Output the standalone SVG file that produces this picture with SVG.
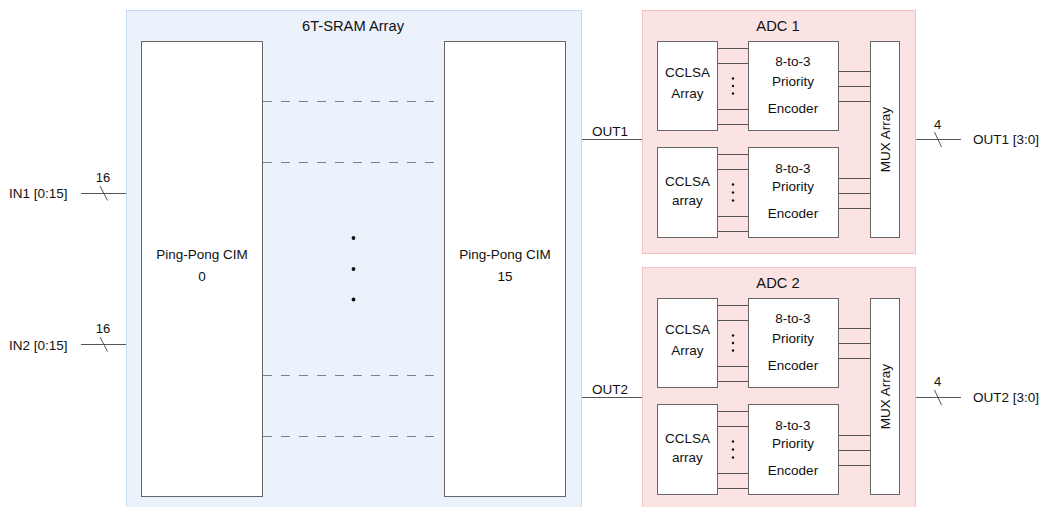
<svg xmlns="http://www.w3.org/2000/svg" width="1043" height="507" viewBox="0 0 1043 507">
<style>
text{font-family:"Liberation Sans",Arial,Helvetica,sans-serif;fill:#111;font-size:13.5px;text-anchor:middle}
.title{font-size:14.7px}
.lbl{font-size:13.5px}
.small{font-size:13px}
.blk{fill:#fff;stroke:#666;stroke-width:1}
.sram{fill:#ebf2fc;stroke:#c8daf3;stroke-width:1}
.adc{fill:#fae3e2;stroke:#f1c2c0;stroke-width:1}
.w{stroke:#555;stroke-width:1;fill:none}
.dash{stroke:#808080;stroke-width:1;stroke-dasharray:9 9;fill:none}
.dot{fill:#111}
</style>
<g id="sram-array">
<rect class="sram" x="126.5" y="10.5" width="455" height="500"/>
<text class="title" x="353" y="31">6T-SRAM Array</text>
</g>
<g id="cim0">
<rect class="blk" x="141.5" y="41.5" width="121" height="455"/>
<text x="202" y="259">Ping-Pong CIM</text>
<text x="202" y="281">0</text>
</g>
<g id="cim15">
<rect class="blk" x="444.5" y="41.5" width="121" height="455"/>
<text x="505" y="259">Ping-Pong CIM</text>
<text x="505" y="281">15</text>
</g>
<g id="sram-dots">
<circle class="dot" cx="353.5" cy="238" r="1.9"/>
<circle class="dot" cx="353.5" cy="269" r="1.9"/>
<circle class="dot" cx="353.5" cy="299.5" r="1.9"/>
</g>
<g id="adc1">
<rect class="adc" x="642.5" y="10.5" width="273" height="243"/>
<text class="title" x="778" y="31">ADC 1</text>
<g id="adc1-cclsa1">
<rect class="blk" x="657.5" y="41.5" width="60" height="89"/>
<text x="687.5" y="77">CCLSA</text>
<text x="687.5" y="98">Array</text>
</g>
<g id="adc1-pe1">
<rect class="blk" x="748.5" y="41.5" width="90" height="89"/>
<text x="793" y="66">8-to-3</text>
<text x="793" y="86">Priority</text>
<text x="793" y="113">Encoder</text>
</g>
<g id="adc1-cclsa2">
<rect class="blk" x="657.5" y="147.5" width="60" height="90"/>
<text x="687.5" y="186">CCLSA</text>
<text x="687.5" y="205">array</text>
</g>
<g id="adc1-pe2">
<rect class="blk" x="748.5" y="147.5" width="90" height="90"/>
<text x="793" y="173">8-to-3</text>
<text x="793" y="191">Priority</text>
<text x="793" y="218">Encoder</text>
</g>
<g id="adc1-mux">
<rect class="blk" x="870.5" y="41.5" width="29" height="196"/>
<text transform="rotate(-90 885 139.5)" x="885" y="144">MUX Array</text>
</g>
<g id="adc1-dots">
<circle class="dot" cx="733" cy="78.5" r="1.2"/>
<circle class="dot" cx="733" cy="86" r="1.2"/>
<circle class="dot" cx="733" cy="93.5" r="1.2"/>
<circle class="dot" cx="733" cy="184.5" r="1.2"/>
<circle class="dot" cx="733" cy="192.5" r="1.2"/>
<circle class="dot" cx="733" cy="200.5" r="1.2"/>
</g>
</g>
<g id="adc2">
<rect class="adc" x="642.5" y="267.5" width="273" height="245"/>
<text class="title" x="778" y="288">ADC 2</text>
<g id="adc2-cclsa1">
<rect class="blk" x="657.5" y="298.5" width="60" height="89"/>
<text x="687.5" y="334">CCLSA</text>
<text x="687.5" y="355">Array</text>
</g>
<g id="adc2-pe1">
<rect class="blk" x="748.5" y="298.5" width="90" height="89"/>
<text x="793" y="323">8-to-3</text>
<text x="793" y="343">Priority</text>
<text x="793" y="370">Encoder</text>
</g>
<g id="adc2-cclsa2">
<rect class="blk" x="657.5" y="404.5" width="60" height="90"/>
<text x="687.5" y="443">CCLSA</text>
<text x="687.5" y="462">array</text>
</g>
<g id="adc2-pe2">
<rect class="blk" x="748.5" y="404.5" width="90" height="90"/>
<text x="793" y="430">8-to-3</text>
<text x="793" y="448">Priority</text>
<text x="793" y="475">Encoder</text>
</g>
<g id="adc2-mux">
<rect class="blk" x="870.5" y="298.5" width="29" height="196"/>
<text transform="rotate(-90 885 396.5)" x="885" y="401">MUX Array</text>
</g>
<g id="adc2-dots">
<circle class="dot" cx="733" cy="335.5" r="1.2"/>
<circle class="dot" cx="733" cy="343" r="1.2"/>
<circle class="dot" cx="733" cy="350.5" r="1.2"/>
<circle class="dot" cx="733" cy="441.5" r="1.2"/>
<circle class="dot" cx="733" cy="449.5" r="1.2"/>
<circle class="dot" cx="733" cy="457.5" r="1.2"/>
</g>
</g>
<g id="connectors">
<path class="dash" d="M263 101.5H436M263 162.5H436M263 375.5H436M263 436.5H436"/>
<path class="w" d="M81 193.5H126M100 186L107.5 200.5"/>
<path class="w" d="M81 344.5H126M100 337L107.5 351.5"/>
<path class="w" d="M582 139.5H642M582 397.5H642"/>
<path class="w" d="M718 48.5H748M718 63.5H748M718 109.5H748M718 124.5H748"/>
<path class="w" d="M718 154.5H748M718 169.5H748M718 216.5H748M718 231.5H748"/>
<path class="w" d="M839 71.5H870M839 86.5H870M839 101.5H870"/>
<path class="w" d="M839 178.5H870M839 193.5H870M839 208.5H870"/>
<path class="w" d="M718 305.5H748M718 320.5H748M718 366.5H748M718 381.5H748"/>
<path class="w" d="M718 411.5H748M718 426.5H748M718 473.5H748M718 488.5H748"/>
<path class="w" d="M839 328.5H870M839 343.5H870M839 358.5H870"/>
<path class="w" d="M839 435.5H870M839 450.5H870M839 465.5H870"/>
<path class="w" d="M916 139.5H961M934.5 132L941.5 147"/>
<path class="w" d="M916 397.5H961M934.5 390L941.5 405"/>
</g>
<g id="labels">
<text class="lbl" x="9" y="197.5" style="text-anchor:start">IN1 [0:15]</text>
<text class="small" x="103" y="182">16</text>
<text class="lbl" x="9" y="349.5" style="text-anchor:start">IN2 [0:15]</text>
<text class="small" x="103" y="333">16</text>
<text class="lbl" x="610" y="136">OUT1</text>
<text class="lbl" x="610" y="394">OUT2</text>
<text class="small" x="937.5" y="128.5">4</text>
<text class="small" x="937.5" y="386">4</text>
<text class="lbl" x="973" y="143.5" style="text-anchor:start">OUT1 [3:0]</text>
<text class="lbl" x="973" y="401.5" style="text-anchor:start">OUT2 [3:0]</text>
</g>
</svg>
